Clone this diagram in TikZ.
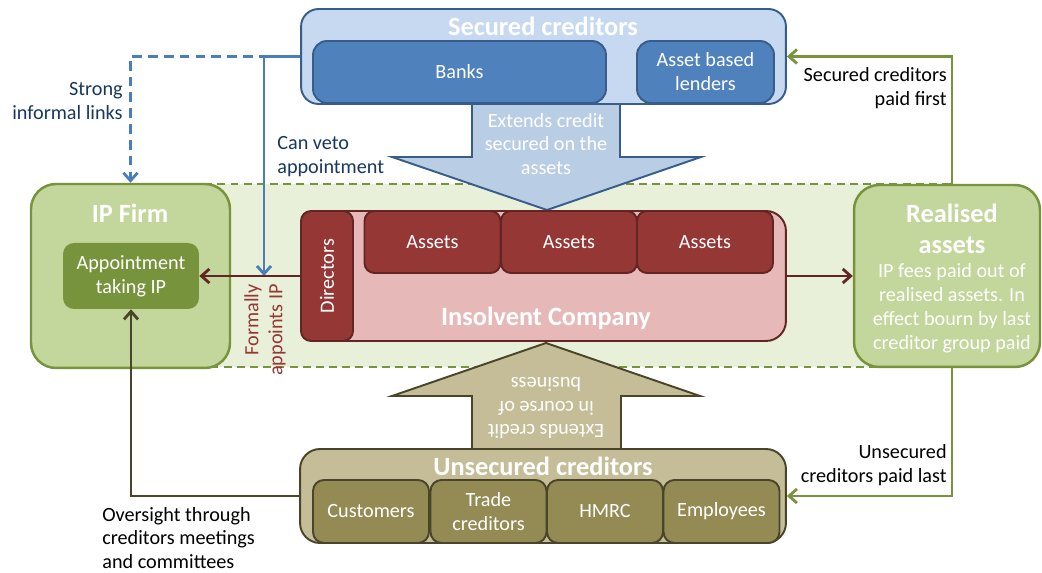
\documentclass[tikz,border=0pt]{standalone}
\usepackage{fontspec}
\setmainfont{Carlito}
\usetikzlibrary{arrows.meta, positioning, calc}
\definecolor{secfill}{RGB}{198,217,241}
\definecolor{secdark}{RGB}{79,129,189}
\definecolor{secline}{RGB}{56,93,138}
\definecolor{secarrow}{RGB}{185,205,229}
\definecolor{blueline}{RGB}{74,126,187}
\definecolor{navytext}{RGB}{23,55,94}
\definecolor{ipfill}{RGB}{195,214,155}
\definecolor{ipdark}{RGB}{119,147,60}
\definecolor{compfill}{RGB}{230,185,184}
\definecolor{compdark}{RGB}{149,55,53}
\definecolor{compline}{RGB}{99,37,35}
\definecolor{unsfill}{RGB}{196,189,151}
\definecolor{unsdark}{RGB}{148,138,84}
\definecolor{unsline}{RGB}{74,69,42}
\definecolor{bandfill}{RGB}{232,240,217}

\begin{document}
\begin{tikzpicture}[x=0.02cm, y=-0.02cm,
  bodytext/.style={font=\fontsize{11.5}{13.6}\selectfont, align=center},
  headtext/.style={font=\fontsize{15}{17.6}\selectfont\bfseries, text=white, align=center, inner sep=0pt},
  secbox/.style={draw=secline, fill=secfill, line width=1.1pt, rounded corners=0.35cm, inner sep=0pt},
  secinner/.style={secbox, fill=secdark, rounded corners=0.28cm, text=white, bodytext},
  ipbox/.style={draw=ipdark, fill=ipfill, line width=1.4pt, rounded corners=0.5cm, inner sep=0pt},
  ipinner/.style={fill=ipdark, rounded corners=0.22cm, text=white, bodytext, inner sep=0pt},
  compbox/.style={draw=compline, fill=compfill, line width=1.1pt, rounded corners=0.4cm, inner sep=0pt},
  compinner/.style={compbox, fill=compdark, rounded corners=0.2cm, text=white, bodytext},
  unsbox/.style={draw=unsline, fill=unsfill, line width=1.1pt, rounded corners=0.4cm, inner sep=0pt},
  unsinner/.style={unsbox, fill=unsdark, rounded corners=0.22cm, text=white, bodytext},
  link/.style={line width=1.6pt, -{Straight Barb[length=4.5pt,width=8pt]}},
  label/.style={bodytext, inner sep=0pt}]
  \useasboundingbox (0,0) rectangle (1042,573);

  % Shaded band round the company
  \draw[ipdark, fill=bandfill, line width=1.4pt, dash pattern=on 4.5pt off 3pt] (130,184) rectangle (950,367);

  % Credit arrows
  \draw[secline, fill=secarrow, line width=1.1pt] (472,100) -- (472,157) -- (392,157) -- (547,210) -- (701,157) -- (620,157) -- (620,100);
  \node[label, text=white] (securedcredit) at (546,144) {Extends credit\\secured on the\\assets};
  \draw[unsline, fill=unsfill, line width=1.1pt] (472,452) -- (472,396) -- (392,396) -- (546,343) -- (700,396) -- (621,396) -- (621,452);
  \node[label, text=white, rotate=180] (unsecuredcredit) at (546,408) {Extends credit\\in course of\\business};

  % Secured creditors
  \node[secbox, minimum width=9.7cm, minimum height=1.9cm] (sec) at (543.5,56.5) {};
  \node[headtext] (sectitle) at (543,26) {Secured creditors};
  \node[secinner, minimum width=5.86cm, minimum height=1.24cm] (banks) at (459.5,72) {Banks};
  \node[secinner, minimum width=2.74cm, minimum height=1.24cm] (lenders) at (705.5,72) {Asset based\\lenders};

  % IP firm
  \node[ipbox, minimum width=3.98cm, minimum height=3.68cm] (ipfirm) at (130.5,276) {};
  \node[headtext] (iptitle) at (130,213) {IP Firm};
  \node[ipinner, minimum width=2.72cm, minimum height=1.32cm] (appoint) at (131,276) {Appointment\\taking IP};

  % Insolvent company
  \node[compbox, minimum width=9.7cm, minimum height=2.6cm] (company) at (543.5,276) {};
  \node[headtext] (comptitle) at (546,318) {Insolvent Company};
  \node[compinner, minimum width=1.04cm, minimum height=2.6cm] (directors) at (327,276) {};
  \node[bodytext, text=white, rotate=90] (dirlabel) at (directors) {Directors};
  \foreach \i/\x in {1/432.5, 2/569, 3/705}
    \node[compinner, minimum width=2.72cm, minimum height=1.24cm] (asset\i) at (\x,242) {Assets};

  % Realised assets
  \node[ipbox, minimum width=3.72cm, minimum height=3.64cm] (realised) at (947,276) {};
  \node[headtext] (realtitle) at (952,228.5) {Realised\\assets};
  \node[label, text=white] (realbody) at (952,308.5) {IP fees paid out of\\realised assets. In\\effect bourn by last\\creditor group paid};

  % Unsecured creditors
  \node[unsbox, minimum width=9.72cm, minimum height=1.88cm] (unsec) at (543,496) {};
  \node[headtext] (unstitle) at (543,466) {Unsecured creditors};
  \foreach \i/\x/\t in {1/371/Customers, 2/488.5/{Trade\\creditors}, 3/605/HMRC, 4/721.5/Employees}
    \node[unsinner, minimum width=2.32cm, minimum height=1.26cm] (unsec\i) at (\x,511.5) {\t};

  % Links
  \coordinate (veto) at (264,276);
  \draw[link, blueline, dash pattern=on 5.5pt off 3.5pt] (sec.west) -| (ipfirm.north);
  \draw[link, blueline] (sec.west) -| (veto);
  \draw[link, compline] (directors.west) -- (appoint.east);
  \draw[link, compline] (company.east) -- (realised.west);
  \draw[link, ipdark] ([xshift=0.1cm]realised.north) |- (sec.east);
  \draw[link, ipdark] ([xshift=0.1cm]realised.south) |- (unsec.east);
  \draw[link, unsline] (unsec.west) -| (appoint.south);

  % Labels
  \node[label, text=navytext, align=right, anchor=east] (informal) at (123,101) {Strong\\informal links};
  \node[label, text=navytext, align=left, anchor=west] (vetolabel) at (277,157) {Can veto\\appointment};
  \node[label, text=compdark, align=right, rotate=90] (formally) at (265,330) {Formally\\appoints IP};
  \node[label, align=right, anchor=east] (paidfirst) at (947,88) {Secured creditors\\paid first};
  \node[label, align=right, anchor=east] (paidlast) at (947,465) {Unsecured\\creditors paid last};
  \node[label, align=left, anchor=west] (oversight) at (102,538) {Oversight through\\creditors meetings\\and committees};
\end{tikzpicture}
\end{document}
